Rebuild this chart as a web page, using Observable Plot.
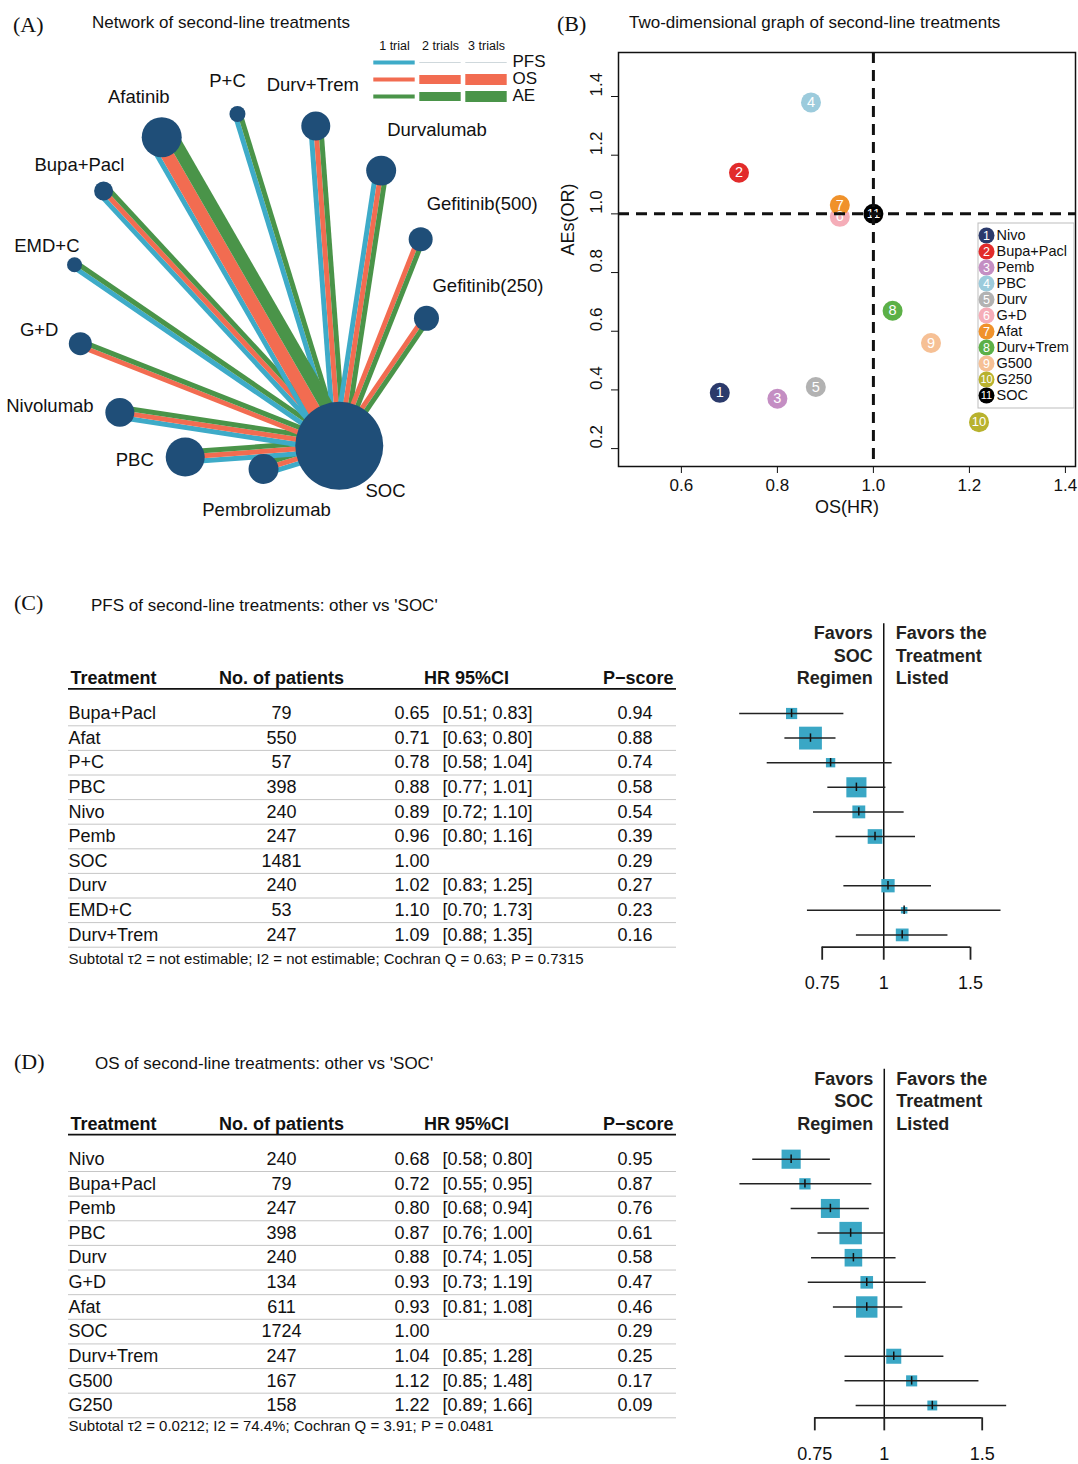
<!DOCTYPE html>
<html><head><meta charset="utf-8">
<script src="https://cdn.jsdelivr.net/npm/d3@7"></script>
<script src="https://cdn.jsdelivr.net/npm/@observablehq/plot@0.6"></script>
<style>
body{margin:0;background:#fff;}
#fig{position:relative;width:1078px;height:1464px;font-family:"Liberation Sans",Arial,sans-serif;color:#111;overflow:hidden;background:#fff}
.tag{font-family:"Liberation Serif","Times New Roman",serif;font-size:22px;line-height:26px;white-space:nowrap}
.ttl{font-size:17px;line-height:20px;white-space:nowrap}
</style></head><body><div id="fig"></div>
<script>
// ---------------- DATA ----------------
// (A) network: nodes in circular order (empty string = empty slot on the circle)
const networkSlots = ["P+C","Durv+Trem","Durvalumab","Gefitinib(500)","Gefitinib(250)","","SOC","Pembrolizumab","PBC","Nivolumab","G+D","EMD+C","Bupa+Pacl","Afatinib"];
const networkSize  = [57, 187, 200, 128, 139, 0, 1724, 200, 339, 187, 118, 50, 80, 356];
const networkPFS   = [1, 1, 1, 0, 0, 0, 0, 1, 1, 1, 0, 1, 1, 1];
const networkOS    = [0, 1, 1, 1, 1, 0, 0, 1, 1, 1, 1, 0, 1, 3];
const networkAE    = [1, 1, 1, 1, 1, 0, 0, 1, 1, 1, 1, 1, 1, 3];
const outcomes = ["PFS","OS","AE"];
const trialLabels = ["1 trial","2 trials","3 trials"];

// (B) two-dimensional graph
const bNames = ["Nivo","Bupa+Pacl","Pemb","PBC","Durv","G+D","Afat","Durv+Trem","G500","G250","SOC"];
const bOS    = [0.68, 0.72, 0.80, 0.87, 0.88, 0.93, 0.93, 1.04, 1.12, 1.22, 1.00];
const bAE    = [0.39, 1.14, 0.37, 1.38, 0.41, 0.99, 1.03, 0.67, 0.56, 0.29, 1.00];
const bXTicks = [0.6, 0.8, 1.0, 1.2, 1.4];
const bYTicks = [0.2, 0.4, 0.6, 0.8, 1.0, 1.2, 1.4];

// (C) PFS vs SOC
const pfsTreat = ["Bupa+Pacl","Afat","P+C","PBC","Nivo","Pemb","SOC","Durv","EMD+C","Durv+Trem"];
const pfsN     = [79, 550, 57, 398, 240, 247, 1481, 240, 53, 247];
const pfsHR    = [0.65, 0.71, 0.78, 0.88, 0.89, 0.96, 1.00, 1.02, 1.10, 1.09];
const pfsLo    = [0.51, 0.63, 0.58, 0.77, 0.72, 0.80, null, 0.83, 0.70, 0.88];
const pfsHi    = [0.83, 0.80, 1.04, 1.01, 1.10, 1.16, null, 1.25, 1.73, 1.35];
const pfsP     = [0.94, 0.88, 0.74, 0.58, 0.54, 0.39, 0.29, 0.27, 0.23, 0.16];
const pfsFooter = "Subtotal \u03c42 = not estimable; I2 = not estimable; Cochran Q = 0.63; P = 0.7315";

// (D) OS vs SOC
const osTreat = ["Nivo","Bupa+Pacl","Pemb","PBC","Durv","G+D","Afat","SOC","Durv+Trem","G500","G250"];
const osN     = [240, 79, 247, 398, 240, 134, 611, 1724, 247, 167, 158];
const osHR    = [0.68, 0.72, 0.80, 0.87, 0.88, 0.93, 0.93, 1.00, 1.04, 1.12, 1.22];
const osLo    = [0.58, 0.55, 0.68, 0.76, 0.74, 0.73, 0.81, null, 0.85, 0.85, 0.89];
const osHi    = [0.80, 0.95, 0.94, 1.00, 1.05, 1.19, 1.08, null, 1.28, 1.48, 1.66];
const osP     = [0.95, 0.87, 0.76, 0.61, 0.58, 0.47, 0.46, 0.29, 0.25, 0.17, 0.09];
const osFooter = "Subtotal \u03c42 = 0.0212; I2 = 74.4%; Cochran Q = 3.91; P = 0.0481";

const forestTicks = [0.75, 1, 1.5];
const favorsLeft = ["Favors","SOC","Regimen"];
const favorsRight = ["Favors the","Treatment","Listed"];

// ---------------- STYLES ----------------
const FONT = '"Liberation Sans", Arial, sans-serif';
const outcomeColors = ["#3eabc8", "#f26c51", "#4a9449"];
const nodeColor = "#1f4e78";
const trialWidthNet = [0, 5, 9.5, 13];
const trialWidthLegend = [0, 4, 9, 11];
const bPalette = ["#2b3a6b","#e22b2b","#c48ec3","#9ccbdc","#b2b2b2","#f5adb8","#f0922b","#5cb047","#f6c095","#b8b22e","#000000"];
const squareFill = "#3aa7c5";

const fig = document.getElementById("fig");
function place(el, left, top){ el.style.position="absolute"; el.style.left=left+"px"; el.style.top=top+"px"; fig.appendChild(el); return el; }
function htmlText(text, left, top, cls){ const d=document.createElement("div"); d.textContent=text; d.className=cls; place(d,left,top); }

// titles
htmlText("(A)", 13, 12, "tag");
htmlText("Network of second-line treatments", 92, 13, "ttl");
htmlText("(B)", 557, 11, "tag");
htmlText("Two-dimensional graph of second-line treatments", 629, 13, "ttl");
htmlText("(C)", 14, 590, "tag");
htmlText("PFS of second-line treatments: other vs 'SOC'", 91, 596, "ttl");
htmlText("(D)", 14, 1049, "tag");
htmlText("OS of second-line treatments: other vs 'SOC'", 95, 1054, "ttl");

// ---------------- (A) NETWORK ----------------
{
  const R = 178, CX = 250, CY = 291, W = 560, H = 530, RMAX = 44, SMAX = 1724;
  const step = 360 / networkSlots.length, theta0 = -4.2;
  const nodes = networkSlots.map((name,k)=>({name,k,size:networkSize[k],trials:[networkPFS[k],networkOS[k],networkAE[k]]})).filter(d=>d.name);
  nodes.forEach(d=>{ const t=(theta0+d.k*step)*Math.PI/180; d.ux=Math.sin(t); d.uy=-Math.cos(t); d.x=d.ux; d.y=d.uy; d.rad=Math.sqrt(d.size/SMAX)*RMAX; });
  const soc = nodes.find(d=>d.name==="SOC");
  // label placement: away from the hub along the edge, unless that points too far from the circle's outward direction
  nodes.forEach(d=>{
    let dir = [d.ux, d.uy], dist = d.rad + 26;
    if (d !== soc) {
      const vx=d.x-soc.x, vy=d.y-soc.y, l=Math.hypot(vx,vy), v=[vx/l,vy/l];
      if (v[0]*d.ux+v[1]*d.uy >= 0.4) dir = v;
    } else dist = d.rad*0.6 + 26;
    const anchor = dir[0] > 0.1 ? "start" : dir[0] < -0.9 ? "end" : "middle";
    let ox = dir[0]*dist, oy = dir[1]*dist;
    if (anchor === "start" && dir[1] < 0) ox = Math.min(ox, 6);
    if (anchor === "end") ox = dir[0]*(d.rad + 12);
    d.anchor = anchor; d.lx = d.x + ox/R; d.ly = d.y + oy/R;
  });
  const lines = [];
  nodes.filter(d=>d!==soc).forEach(d=>{
    const dx=soc.x-d.x, dy=soc.y-d.y, len=Math.hypot(dx,dy), px=-dy/len, py=dx/len;
    const items = outcomes.map((o,j)=>({o, t:d.trials[j]})).filter(e=>e.t>0);
    const ws = items.map(e=>trialWidthNet[e.t]);
    const total = d3.sum(ws);
    let cum = 0;
    items.forEach((e,j)=>{
      const off = (total/2 - cum - ws[j]/2)/R; cum += ws[j];
      lines.push({outcome:e.o, w:ws[j], x1:d.x+px*off, y1:d.y+py*off, x2:soc.x+px*off, y2:soc.y+py*off});
    });
  });
  const p = Plot.plot({
    width:W, height:H, margin:0,
    style:{fontFamily:FONT, background:"transparent", overflow:"visible"},
    x:{domain:[-CX/R,(W-CX)/R], range:[0,W], axis:null},
    y:{domain:[-CY/R,(H-CY)/R], range:[0,H], axis:null},
    r:{type:"sqrt", domain:[0,SMAX], range:[0,RMAX]},
    color:{domain:outcomes, range:outcomeColors},
    marks:[
      Plot.link(lines, {x1:"x1", y1:"y1", x2:"x2", y2:"y2", stroke:"outcome", strokeWidth:"w", strokeLinecap:"butt"}),
      Plot.dot(nodes, {x:"x", y:"y", r:"size", fill:nodeColor}),
      ...["start","middle","end"].map(a=>Plot.text(nodes.filter(d=>d.anchor===a), {x:"lx", y:"ly", text:"name", textAnchor:a, fontSize:18.5, fill:"#111"}))
    ]
  });
  place(p, 0, 0);

  // legend
  const legendItems = [];
  outcomes.forEach((o,oi)=>[1,2,3].forEach(t=>{
    const has = d3.max(networkSlots.map((n,k)=>[networkPFS[k],networkOS[k],networkAE[k]][oi])) >= t;
    legendItems.push({o,t,has});
  }));
  const lg = Plot.plot({
    width:200, height:75, margin:0,
    style:{fontFamily:FONT, background:"transparent", overflow:"visible"},
    x:{domain:[1,3], range:[34,126], axis:null},
    y:{type:"point", domain:outcomes, range:[27,61], padding:0, axis:null},
    color:{domain:outcomes, range:outcomeColors},
    marks:[
      Plot.ruleY(legendItems.filter(d=>d.has), {y:"o", x1:d=>d.t-0.45, x2:d=>d.t+0.45, stroke:"o", strokeWidth:d=>trialWidthLegend[d.t]}),
      Plot.ruleY(legendItems.filter(d=>!d.has), {y:"o", x1:d=>d.t-0.45, x2:d=>d.t+0.45, stroke:"#cfd8dc", strokeWidth:1}),
      Plot.text(trialLabels, {x:(d,i)=>i+1, y:()=>"PFS", dy:-17, text:d=>d, fontSize:12.5, fill:"#111"}),
      Plot.text(outcomes, {y:d=>d, frameAnchor:"left", dx:152, dy:-1, text:d=>d, textAnchor:"start", fontSize:17, fill:"#111"})
    ]
  });
  place(lg, 360, 35);
}

// ---------------- (B) TWO-DIMENSIONAL ----------------
{
  const pts = bNames.map((n,i)=>({n, id:i+1, os:bOS[i], ae:bAE[i]}));
  const p = Plot.plot({
    width:518, height:530, marginLeft:58, marginRight:3, marginTop:52, marginBottom:64,
    style:{fontFamily:FONT, background:"transparent", overflow:"visible", color:"#111"},
    x:{domain:[0.469,1.421]},
    y:{domain:[0.139,1.55]},
    color:{domain:bNames, range:bPalette},
    marks:[
      Plot.axisX({ticks:bXTicks, tickFormat:d=>d.toFixed(1), tickSize:7, tickPadding:5, fontSize:17, label:null}),
      Plot.axisY({ticks:bYTicks, tickFormat:()=>"", tickSize:7, label:null}),
      Plot.text(bYTicks, {y:d=>d, text:d=>d.toFixed(1), frameAnchor:"left", dx:-22, rotate:-90, fontSize:17, fill:"#111"}),
      Plot.text(["OS(HR)"], {text:d=>d, frameAnchor:"bottom", dy:46, fontSize:18, fill:"#111"}),
      Plot.text(["AEs(OR)"], {text:d=>d, frameAnchor:"left", dx:-50, dy:-4, rotate:-90, fontSize:18, fill:"#111"}),
      Plot.dot(pts, {x:"os", y:"ae", r:10, fill:"n"}),
      Plot.text(pts, {x:"os", y:"ae", text:d=>String(d.id), fill:"#fff", fontSize:d=>d.id>9?13:14.5}),
      Plot.ruleX([1], {stroke:"#111", strokeWidth:3, strokeDasharray:"11,7"}),
      Plot.ruleY([1], {stroke:"#111", strokeWidth:3, strokeDasharray:"11,7"}),
      Plot.frame({stroke:"#111", strokeWidth:1.5})
    ]
  });
  place(p, 560, 0);

  const lg = Plot.plot({
    width:97, height:186, margin:0,
    style:{fontFamily:FONT, background:"#fff", overflow:"visible"},
    y:{type:"point", domain:bNames, range:[9,176], padding:0, axis:null},
    color:{domain:bNames, range:bPalette},
    marks:[
      Plot.frame({stroke:"#bdbdbd", strokeWidth:1, inset:0.5}),
      Plot.dot(pts, {y:"n", frameAnchor:"left", dx:9, r:8, fill:"n"}),
      Plot.text(pts, {y:"n", frameAnchor:"left", dx:9, text:d=>String(d.id), textAnchor:"middle", fill:"#fff", fontSize:d=>d.id>9?11:12.5}),
      Plot.text(pts, {y:"n", frameAnchor:"left", dx:19, text:"n", textAnchor:"start", fontSize:14.5, fill:"#111"})
    ]
  });
  place(lg, 977, 222);
}

// ---------------- (C) & (D) FORESTS ----------------
function forest(cfg){
  const rows = cfg.treat.map((t,i)=>({i,t,n:cfg.n[i],hr:cfg.hr[i],lo:cfg.lo[i],hi:cfg.hi[i],p:cfg.p[i]}));
  const last = rows.length-1;
  const ci = rows.filter(d=>d.lo!=null);
  const pxPerLog = (cfg.xRange[1]-cfg.xRange[0])/Math.log(1.5/0.75);
  ci.forEach(d=>{ const side = 0.0255*pxPerLog/Math.log(d.hi/d.lo); d.r = Math.max(side,6.5)/Math.sqrt(Math.PI); });
  const hy = ()=>-1.42;
  const p = Plot.plot({
    width:1078, height:cfg.height, marginLeft:68, marginRight:402, marginTop:0, marginBottom:0,
    style:{fontFamily:FONT, fontSize:"18px", color:"#111", background:"transparent", overflow:"visible"},
    x:{type:"log", domain:[0.75,1.5], range:cfg.xRange, axis:null},
    y:{type:"linear", domain:[0,1], range:[cfg.row0, cfg.row0+cfg.step], axis:null},
    r:{type:"linear", domain:[0,100], range:[0,100]},
    marks:[
      Plot.ruleY(rows, {y:d=>d.i+0.5, stroke:"#c6c6c6", strokeWidth:1}),
      Plot.ruleY([-1], {y:d=>d, stroke:"#111", strokeWidth:1.8}),
      Plot.text(["Treatment"], {y:hy, text:d=>d, frameAnchor:"left", dx:2, textAnchor:"start", fontWeight:"bold", fontSize:18}),
      Plot.text(["No. of patients"], {y:hy, text:d=>d, frameAnchor:"left", dx:213, textAnchor:"middle", fontWeight:"bold", fontSize:18}),
      Plot.text(["HR 95%CI"], {y:hy, text:d=>d, frameAnchor:"left", dx:398, textAnchor:"middle", fontWeight:"bold", fontSize:18}),
      Plot.text(["P\u2212score"], {y:hy, text:d=>d, frameAnchor:"right", dx:-3, textAnchor:"end", fontWeight:"bold", fontSize:18}),
      Plot.text(rows, {y:"i", text:"t", frameAnchor:"left", textAnchor:"start", fontSize:18}),
      Plot.text(rows, {y:"i", text:d=>String(d.n), frameAnchor:"left", dx:213, textAnchor:"middle", fontSize:18}),
      Plot.text(rows, {y:"i", text:d=>d.hr.toFixed(2), frameAnchor:"left", dx:361, textAnchor:"end", fontSize:18}),
      Plot.text(ci, {y:"i", text:d=>`[${d.lo.toFixed(2)}; ${d.hi.toFixed(2)}]`, frameAnchor:"left", dx:374, textAnchor:"start", fontSize:18}),
      Plot.text(rows, {y:"i", text:d=>d.p.toFixed(2), frameAnchor:"left", dx:584, textAnchor:"end", fontSize:18}),
      Plot.text([cfg.footer], {y:()=>cfg.footerRow, text:d=>d, frameAnchor:"left", textAnchor:"start", fontSize:15}),
      // forest
      Plot.ruleX([1], {x:d=>d, y1:()=>-3.65, y2:()=>last+0.5, stroke:"#111", strokeWidth:1.5}),
      Plot.dot(ci, {x:"hr", y:"i", r:"r", symbol:"square", fill:squareFill}),
      Plot.ruleY(ci, {y:"i", x1:"lo", x2:"hi", stroke:"#222", strokeWidth:1.5}),
      Plot.ruleX(ci, {x:"hr", y1:d=>d.i-0.17, y2:d=>d.i+0.17, stroke:"#111", strokeWidth:1.5}),
      Plot.ruleY([last+0.5], {y:d=>d, x1:()=>0.75, x2:()=>1.5, stroke:"#222", strokeWidth:1.8}),
      Plot.ruleX(forestTicks, {x:d=>d, y1:()=>last+0.5, y2:()=>last+1.03, stroke:"#222", strokeWidth:1.8}),
      Plot.text(forestTicks, {x:d=>d, y:()=>last+1.98, text:d=>String(d), fontSize:18}),
      Plot.text(favorsLeft, {x:()=>1, y:(d,i)=>-3.25+i*0.915, text:d=>d, textAnchor:"end", dx:-11, fontWeight:"bold", fontSize:18, fill:"#231f20"}),
      Plot.text(favorsRight, {x:()=>1, y:(d,i)=>-3.25+i*0.915, text:d=>d, textAnchor:"start", dx:12, fontWeight:"bold", fontSize:18, fill:"#231f20"})
    ]
  });
  place(p, 0, cfg.top);
}

forest({treat:pfsTreat, n:pfsN, hr:pfsHR, lo:pfsLo, hi:pfsHi, p:pfsP, footer:pfsFooter,
  top:600, height:400, row0:113, step:24.6, xRange:[821.7,970], footerRow:pfsTreat.length});
forest({treat:osTreat, n:osN, hr:osHR, lo:osLo, hi:osHi, p:osP, footer:osFooter,
  top:1040, height:424, row0:118.7, step:24.63, xRange:[814.3,981.7], footerRow:osTreat.length-1+0.82});
</script></body></html>
